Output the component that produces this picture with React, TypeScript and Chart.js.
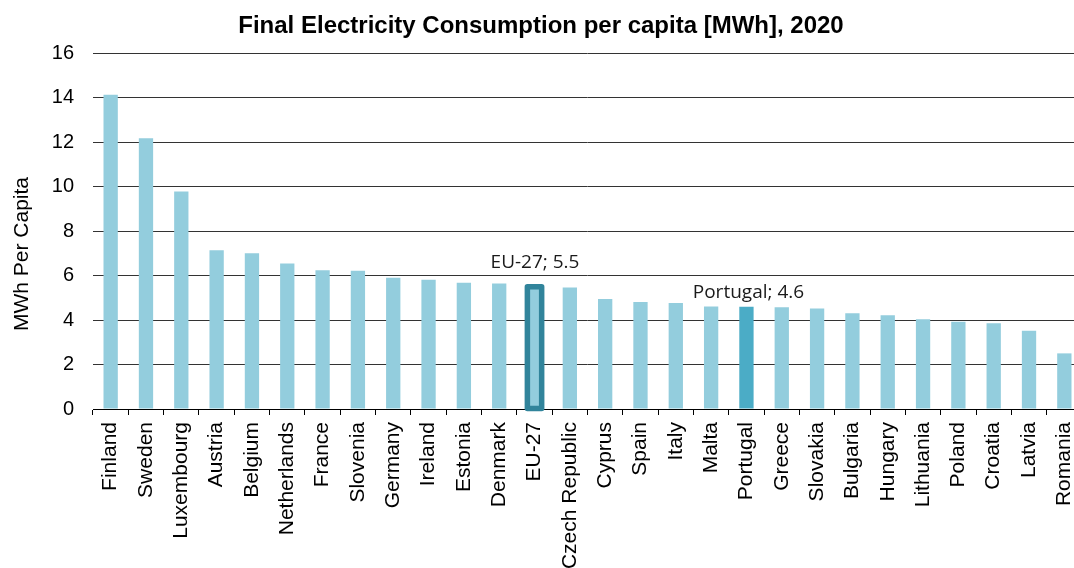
import React, { useEffect, useRef } from 'react';
import { Chart, registerables } from 'chart.js';

Chart.register(...registerables);

const TITLE = 'Final Electricity Consumption per capita [MWh], 2020';
const Y_TITLE = 'MWh Per Capita';

const categories = [
  'Finland', 'Sweden', 'Luxembourg', 'Austria', 'Belgium', 'Netherlands', 'France',
  'Slovenia', 'Germany', 'Ireland', 'Estonia', 'Denmark', 'EU-27', 'Czech Republic',
  'Cyprus', 'Spain', 'Italy', 'Malta', 'Portugal', 'Greece', 'Slovakia', 'Bulgaria',
  'Hungary', 'Lithuania', 'Poland', 'Croatia', 'Latvia', 'Romania',
];

const values = [
  14.12, 12.17, 9.78, 7.14, 7.0, 6.54, 6.24,
  6.21, 5.9, 5.81, 5.67, 5.64, 5.5, 5.46,
  4.94, 4.81, 4.76, 4.61, 4.6, 4.57, 4.52, 4.3,
  4.21, 4.03, 3.92, 3.85, 3.52, 2.5,
];

const Y_MIN = 0;
const Y_MAX = 16;
const Y_STEP = 2;

const AVERAGE_CATEGORY = 'EU-27';
const HIGHLIGHT_CATEGORY = 'Portugal';
const annotationTexts = ['EU-27; 5.5', 'Portugal; 4.6'];
const annotationCategories = [AVERAGE_CATEGORY, HIGHLIGHT_CATEGORY];

const BAR_COLOR = '#93CDDD';
const HIGHLIGHT_COLOR = '#4BACC6';
const OUTLINE_COLOR = '#31849B';

const CANVAS_W = 1082;
const CANVAS_H = 580;
const AXIS_LEFT = 93;
const X_AXIS_BOTTOM = 409;

export default function App() {
  const ref = useRef<HTMLCanvasElement | null>(null);

  useEffect(() => {
    if (!ref.current) return;
    Chart.defaults.font.family = '"Liberation Sans", Arial, sans-serif';
    Chart.defaults.color = '#000';

    const colors = categories.map((c) => (c === HIGHLIGHT_CATEGORY ? HIGHLIGHT_COLOR : BAR_COLOR));

    const outlinePlugin = {
      id: 'avgOutline',
      afterDatasetsDraw(chart: any) {
        const idx = categories.indexOf(AVERAGE_CATEGORY);
        const el = chart.getDatasetMeta(0).data[idx];
        if (!el) return;
        const { x, y, base, width } = el.getProps(['x', 'y', 'base', 'width'], true);
        const ctx = chart.ctx;
        ctx.save();
        ctx.lineWidth = 5.5;
        ctx.lineJoin = 'round';
        ctx.strokeStyle = OUTLINE_COLOR;
        ctx.strokeRect(x - width / 2, y, width, base - y);
        ctx.restore();
      },
    };

    const labelPlugin = {
      id: 'annot',
      afterDatasetsDraw(chart: any) {
        const ctx = chart.ctx;
        ctx.save();
        ctx.font = '19px "Open Sans", "Noto Sans", sans-serif';
        ctx.fillStyle = '#1a1a1a';
        ctx.textAlign = 'center';
        ctx.textBaseline = 'alphabetic';
        annotationCategories.forEach((cat, i) => {
          const idx = categories.indexOf(cat);
          const el = chart.getDatasetMeta(0).data[idx];
          if (!el) return;
          const isAvg = cat === AVERAGE_CATEGORY;
          const dx = isAvg ? 0.5 : 2;
          const dy = isAvg ? 19 : 8.5;
          ctx.fillText(annotationTexts[i], el.x + dx, el.y - dy);
        });
        ctx.restore();
      },
    };

    const yTitlePlugin = {
      id: 'yTitle',
      afterDraw(chart: any) {
        const ctx = chart.ctx;
        ctx.save();
        ctx.translate(22.5, 254);
        ctx.rotate(-Math.PI / 2);
        ctx.font = '21px "Liberation Sans", Arial, sans-serif';
        ctx.fillStyle = '#000';
        ctx.textAlign = 'center';
        ctx.textBaseline = 'middle';
        ctx.fillText(Y_TITLE, 0, 0);
        ctx.restore();
      },
    };

    const chart = new Chart(ref.current, {
      type: 'bar',
      data: {
        labels: categories,
        datasets: [
          {
            data: values,
            backgroundColor: colors,
            borderWidth: 0,
            barPercentage: 0.405,
            categoryPercentage: 1,
          },
        ],
      },
      options: {
        responsive: false,
        animation: false,
        devicePixelRatio: 1,
        layout: { padding: 0 },
        plugins: {
          legend: { display: false },
          tooltip: { enabled: false },
          title: {
            display: true,
            text: TITLE,
            color: '#000',
            font: { size: 24, weight: 'bold', family: '"Liberation Sans", Arial, sans-serif', lineHeight: 1.2 },
            padding: { top: 12, bottom: 12.2 },
          },
        },
        scales: {
          x: {
            type: 'category',
            offset: true,
            grid: {
              offset: true,
              drawOnChartArea: false,
              drawTicks: true,
              tickLength: 6,
              color: '#000',
              lineWidth: 1,
            },
            border: { display: true, color: '#000', width: 1 },
            ticks: {
              autoSkip: false,
              minRotation: 90,
              maxRotation: 90,
              padding: 7,
              color: '#000',
              font: { size: 21 },
            },
            afterFit(scale: any) {
              scale.height = CANVAS_H - X_AXIS_BOTTOM;
              scale.paddingLeft = 0;
              scale.paddingRight = 0;
            },
          },
          y: {
            min: Y_MIN,
            max: Y_MAX,
            ticks: {
              stepSize: Y_STEP,
              padding: 19,
              color: '#000',
              font: { size: 20 },
            },
            grid: {
              drawTicks: false,
              color: '#333',
              lineWidth: 1,
            },
            border: { display: false },
            afterFit(scale: any) {
              scale.width = AXIS_LEFT;
              scale.paddingTop = 0;
              scale.paddingBottom = 0;
            },
          },
        },
      },
      plugins: [outlinePlugin, labelPlugin, yTitlePlugin],
    } as any);

    return () => chart.destroy();
  }, []);

  return (
    <div
      style={{
        position: 'fixed',
        left: 0,
        top: 0,
        width: 1074,
        height: 568,
        overflow: 'hidden',
        background: '#fff',
      }}
    >
      <canvas
        ref={ref}
        width={CANVAS_W}
        height={CANVAS_H}
        style={{ display: 'block', width: CANVAS_W, height: CANVAS_H }}
      />
    </div>
  );
}
